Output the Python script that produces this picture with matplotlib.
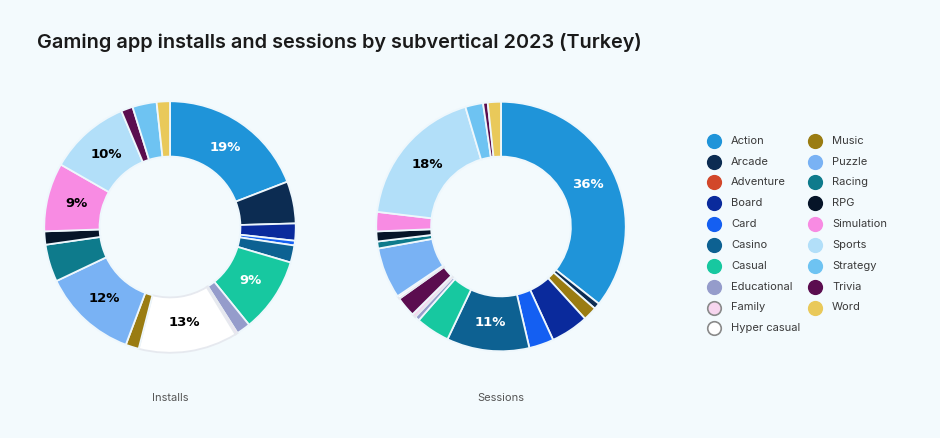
import math

import matplotlib.pyplot as plt

# Colours per subvertical
colors = {
    "Action": "#1f94d9", "Arcade": "#0c2c52", "Adventure": "#d2472a",
    "Board": "#0a2a9c", "Card": "#145ff2", "Casino": "#0d6192",
    "Casual": "#17c8a0", "Educational": "#959ccb", "Family": "#f7d6ef",
    "Hyper casual": "#ffffff", "Music": "#9a7c12", "Puzzle": "#79b2f4",
    "Racing": "#0e7b8c", "RPG": "#061428", "Simulation": "#f88be3",
    "Sports": "#b2dff9", "Strategy": "#6ec3f2", "Trivia": "#5b0d4f",
    "Word": "#e9c95a",
}

legend_col1 = ["Action", "Arcade", "Adventure", "Board", "Card", "Casino",
               "Casual", "Educational", "Family", "Hyper casual"]
legend_col2 = ["Music", "Puzzle", "Racing", "RPG", "Simulation", "Sports",
               "Strategy", "Trivia", "Word"]

# Installs (clockwise from 12 o'clock)
inst_cats = ["Action", "Arcade", "Board", "Card", "Casino", "Casual",
             "Educational", "Family", "Hyper casual", "Music", "Puzzle",
             "Racing", "RPG", "Simulation", "Sports", "Trivia", "Strategy", "Word"]
inst_vals = [19.1, 5.4, 2.2, 0.6, 2.2, 9.6, 1.8, 0.3, 12.7, 1.7, 12.2,
             4.8, 1.7, 8.8, 10.4, 1.5, 3.1, 1.7]
inst_labels = {"Action": ("19%", "white"), "Casual": ("9%", "white"),
               "Hyper casual": ("13%", "black"), "Puzzle": ("12%", "black"),
               "Simulation": ("9%", "black"), "Sports": ("10%", "black")}

# Sessions (clockwise from 12 o'clock)
sess_cats = ["Action", "Arcade", "Music", "Board", "Card", "Casino", "Casual",
             "Educational", "Family", "Trivia", "Hyper casual", "Puzzle",
             "Racing", "RPG", "Simulation", "Sports", "Strategy", "Trivia", "Word"]
sess_vals = [35.6, 0.8, 1.8, 4.9, 3.2, 10.7, 4.4, 0.6, 0.5, 2.6, 0.4, 6.6,
             0.9, 1.3, 2.5, 18.5, 2.3, 0.6, 1.7]
sess_labels = {"Action": ("36%", "white"), "Casino": ("11%", "white"),
               "Sports": ("18%", "black")}

bg = "#f3fafd"
W, H = 940, 438
fig = plt.figure(figsize=(W / 100, H / 100), dpi=100, facecolor=bg)

label_font = ["DejaVu Sans Condensed", "Liberation Sans Narrow", "DejaVu Sans"]


def donut(cx, cy, r, cats, vals, labels):
    ax = fig.add_axes([(cx - r) / W, (H - cy - r) / H, 2 * r / W, 2 * r / H])
    ax.set_facecolor(bg)
    wedges, _ = ax.pie(vals, colors=[colors[c] for c in cats], startangle=90,
                       counterclock=False, radius=1,
                       wedgeprops=dict(width=0.44, edgecolor="#eef7fc", linewidth=1.3))
    for w, c in zip(wedges, cats):
        if c in ("Hyper casual", "Family"):
            w.set_edgecolor("#e6e9ef")
    total = sum(vals)
    start = 0
    done = set()
    for c, v in zip(cats, vals):
        if c in labels and c not in done:
            mid = math.radians(90 - (start + v / 2) / total * 360)
            txt, col = labels[c]
            ax.text(0.77 * math.cos(mid), 0.77 * math.sin(mid), txt,
                    ha="center", va="center", color=col, fontsize=9.5,
                    fontweight="bold", family=label_font)
            done.add(c)
        start += v
    ax.set_xlim(-1.01, 1.01)
    ax.set_ylim(-1.01, 1.01)
    ax.set_aspect("equal")
    ax.axis("off")
    return ax


donut(170, 227, 127, inst_cats, inst_vals, inst_labels)
donut(501, 226.5, 126, sess_cats, sess_vals, sess_labels)

fig.text(37 / W, 1 - 42 / H, "Gaming app installs and sessions by subvertical 2023 (Turkey)",
         fontsize=14.3, fontweight="semibold", family=["Inter", "DejaVu Sans"],
         color="#1a1a1a", va="center", ha="left")
fig.text(170 / W, 1 - 398 / H, "Installs", fontsize=8, color="#555555",
         ha="center", va="center", family=["Inter", "DejaVu Sans"])
fig.text(501 / W, 1 - 398 / H, "Sessions", fontsize=8, color="#555555",
         ha="center", va="center", family=["Inter", "DejaVu Sans"])

# Legend
lax = fig.add_axes([0, 0, 1, 1], facecolor="none")
lax.set_xlim(0, W)
lax.set_ylim(H, 0)
lax.axis("off")
for names, mx in [(legend_col1, 714), (legend_col2, 815)]:
    for i, name in enumerate(names):
        y = 140.7 + i * 20.85
        edge = "#8a8a8a" if name in ("Family", "Hyper casual") else colors[name]
        lax.scatter([mx], [y], s=95, color=colors[name], edgecolors=edge, linewidths=1.2)
        lax.text(mx + 17, y, name, fontsize=8, color="#3a3a3a", va="center",
                 family=["Inter", "DejaVu Sans"])

fig.savefig("out.png", dpi=100, facecolor=bg)
